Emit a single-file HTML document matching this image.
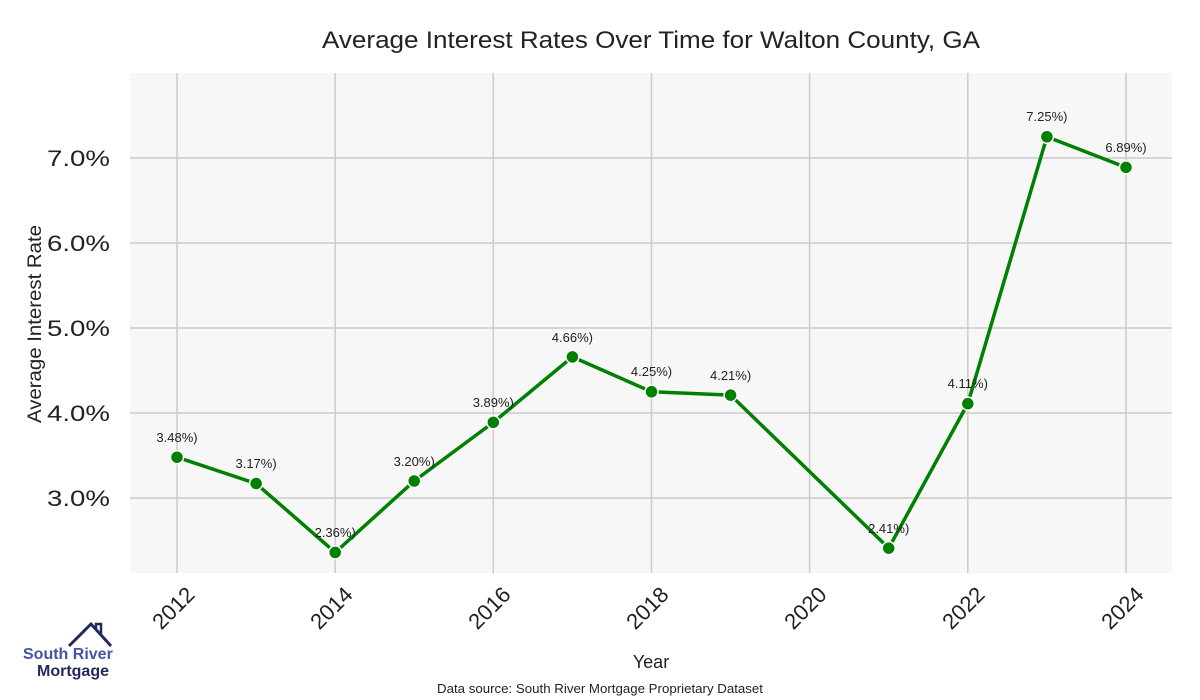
<!DOCTYPE html>
<html><head><meta charset="utf-8"><style>body{margin:0;background:#fff}svg{display:block;font-family:"Liberation Sans",sans-serif}</style></head><body>
<svg width="1200" height="700" xmlns="http://www.w3.org/2000/svg">
<rect x="130" y="73" width="1042" height="500" fill="#f7f7f7"/>
<g stroke="#cccccc" stroke-width="1.5">
<line x1="130" x2="1172" y1="158" y2="158"/><line x1="130" x2="1172" y1="243" y2="243"/><line x1="130" x2="1172" y1="328" y2="328"/><line x1="130" x2="1172" y1="413" y2="413"/><line x1="130" x2="1172" y1="498" y2="498"/>
<line x1="177" x2="177" y1="73" y2="573"/><line x1="335.2" x2="335.2" y1="73" y2="573"/><line x1="493.3" x2="493.3" y1="73" y2="573"/><line x1="651.5" x2="651.5" y1="73" y2="573"/><line x1="809.6" x2="809.6" y1="73" y2="573"/><line x1="967.8" x2="967.8" y1="73" y2="573"/><line x1="1126" x2="1126" y1="73" y2="573"/>
</g>
<text x="322" y="48" textLength="658" lengthAdjust="spacingAndGlyphs" font-size="24" fill="#222">Average Interest Rates Over Time for Walton County, GA</text>
<g font-size="22" fill="#222">
<text x="47" y="166" textLength="63" lengthAdjust="spacingAndGlyphs">7.0%</text><text x="47" y="251" textLength="63" lengthAdjust="spacingAndGlyphs">6.0%</text><text x="47" y="336" textLength="63" lengthAdjust="spacingAndGlyphs">5.0%</text><text x="47" y="421" textLength="63" lengthAdjust="spacingAndGlyphs">4.0%</text><text x="47" y="506" textLength="63" lengthAdjust="spacingAndGlyphs">3.0%</text>
</g>
<text transform="translate(41,324) rotate(-90)" x="-99" textLength="198" lengthAdjust="spacingAndGlyphs" font-size="19" fill="#222">Average Interest Rate</text>
<g font-size="22" fill="#222" text-anchor="end">
<text transform="translate(196,596) rotate(-45)">2012</text>
<text transform="translate(354,596) rotate(-45)">2014</text>
<text transform="translate(512,596) rotate(-45)">2016</text>
<text transform="translate(670,596) rotate(-45)">2018</text>
<text transform="translate(828,596) rotate(-45)">2020</text>
<text transform="translate(986,596) rotate(-45)">2022</text>
<text transform="translate(1145,596) rotate(-45)">2024</text>
</g>
<text x="651" y="668" text-anchor="middle" font-size="18" fill="#222">Year</text>
<text x="437" y="693" textLength="326" lengthAdjust="spacingAndGlyphs" font-size="13" fill="#222">Data source: South River Mortgage Proprietary Dataset</text>
<polyline fill="none" stroke="#008000" stroke-width="3.5" stroke-linejoin="round" points="177,457.2 256.1,483.55 335.2,552.4 414.2,481 493.3,422.35 572.4,356.9 651.5,391.75 730.6,395.15 888.7,548.15 967.8,403.65 1046.9,136.75 1126,167.35"/>
<g fill="#008000" stroke="#fff" stroke-width="1.5">
<circle cx="177" cy="457.2" r="6.5"/><circle cx="256.1" cy="483.55" r="6.5"/><circle cx="335.2" cy="552.4" r="6.5"/><circle cx="414.2" cy="481" r="6.5"/><circle cx="493.3" cy="422.35" r="6.5"/><circle cx="572.4" cy="356.9" r="6.5"/><circle cx="651.5" cy="391.75" r="6.5"/><circle cx="730.6" cy="395.15" r="6.5"/><circle cx="888.7" cy="548.15" r="6.5"/><circle cx="967.8" cy="403.65" r="6.5"/><circle cx="1046.9" cy="136.75" r="6.5"/><circle cx="1126" cy="167.35" r="6.5"/>
</g>
<g font-size="13" fill="#222" text-anchor="middle">
<text x="177" y="442">3.48%)</text><text x="256.1" y="468">3.17%)</text><text x="335.2" y="537">2.36%)</text><text x="414.2" y="466">3.20%)</text><text x="493.3" y="407">3.89%)</text><text x="572.4" y="342">4.66%)</text><text x="651.5" y="376">4.25%)</text><text x="730.6" y="380">4.21%)</text><text x="888.7" y="533">2.41%)</text><text x="967.8" y="388">4.11%)</text><text x="1046.9" y="121">7.25%)</text><text x="1126" y="152">6.89%)</text>
</g>
<polyline fill="none" stroke="#232a5c" stroke-width="3" points="69,646 91,624 111,646"/>
<polyline fill="none" stroke="#232a5c" stroke-width="2.5" points="96,629 96,624 101,624 101,636"/>
<text x="23" y="659" font-size="16" font-weight="bold" fill="#4453a8">South River</text>
<text x="37" y="676" font-size="16" font-weight="bold" fill="#232a5c">Mortgage</text>
</svg>
</body></html>
